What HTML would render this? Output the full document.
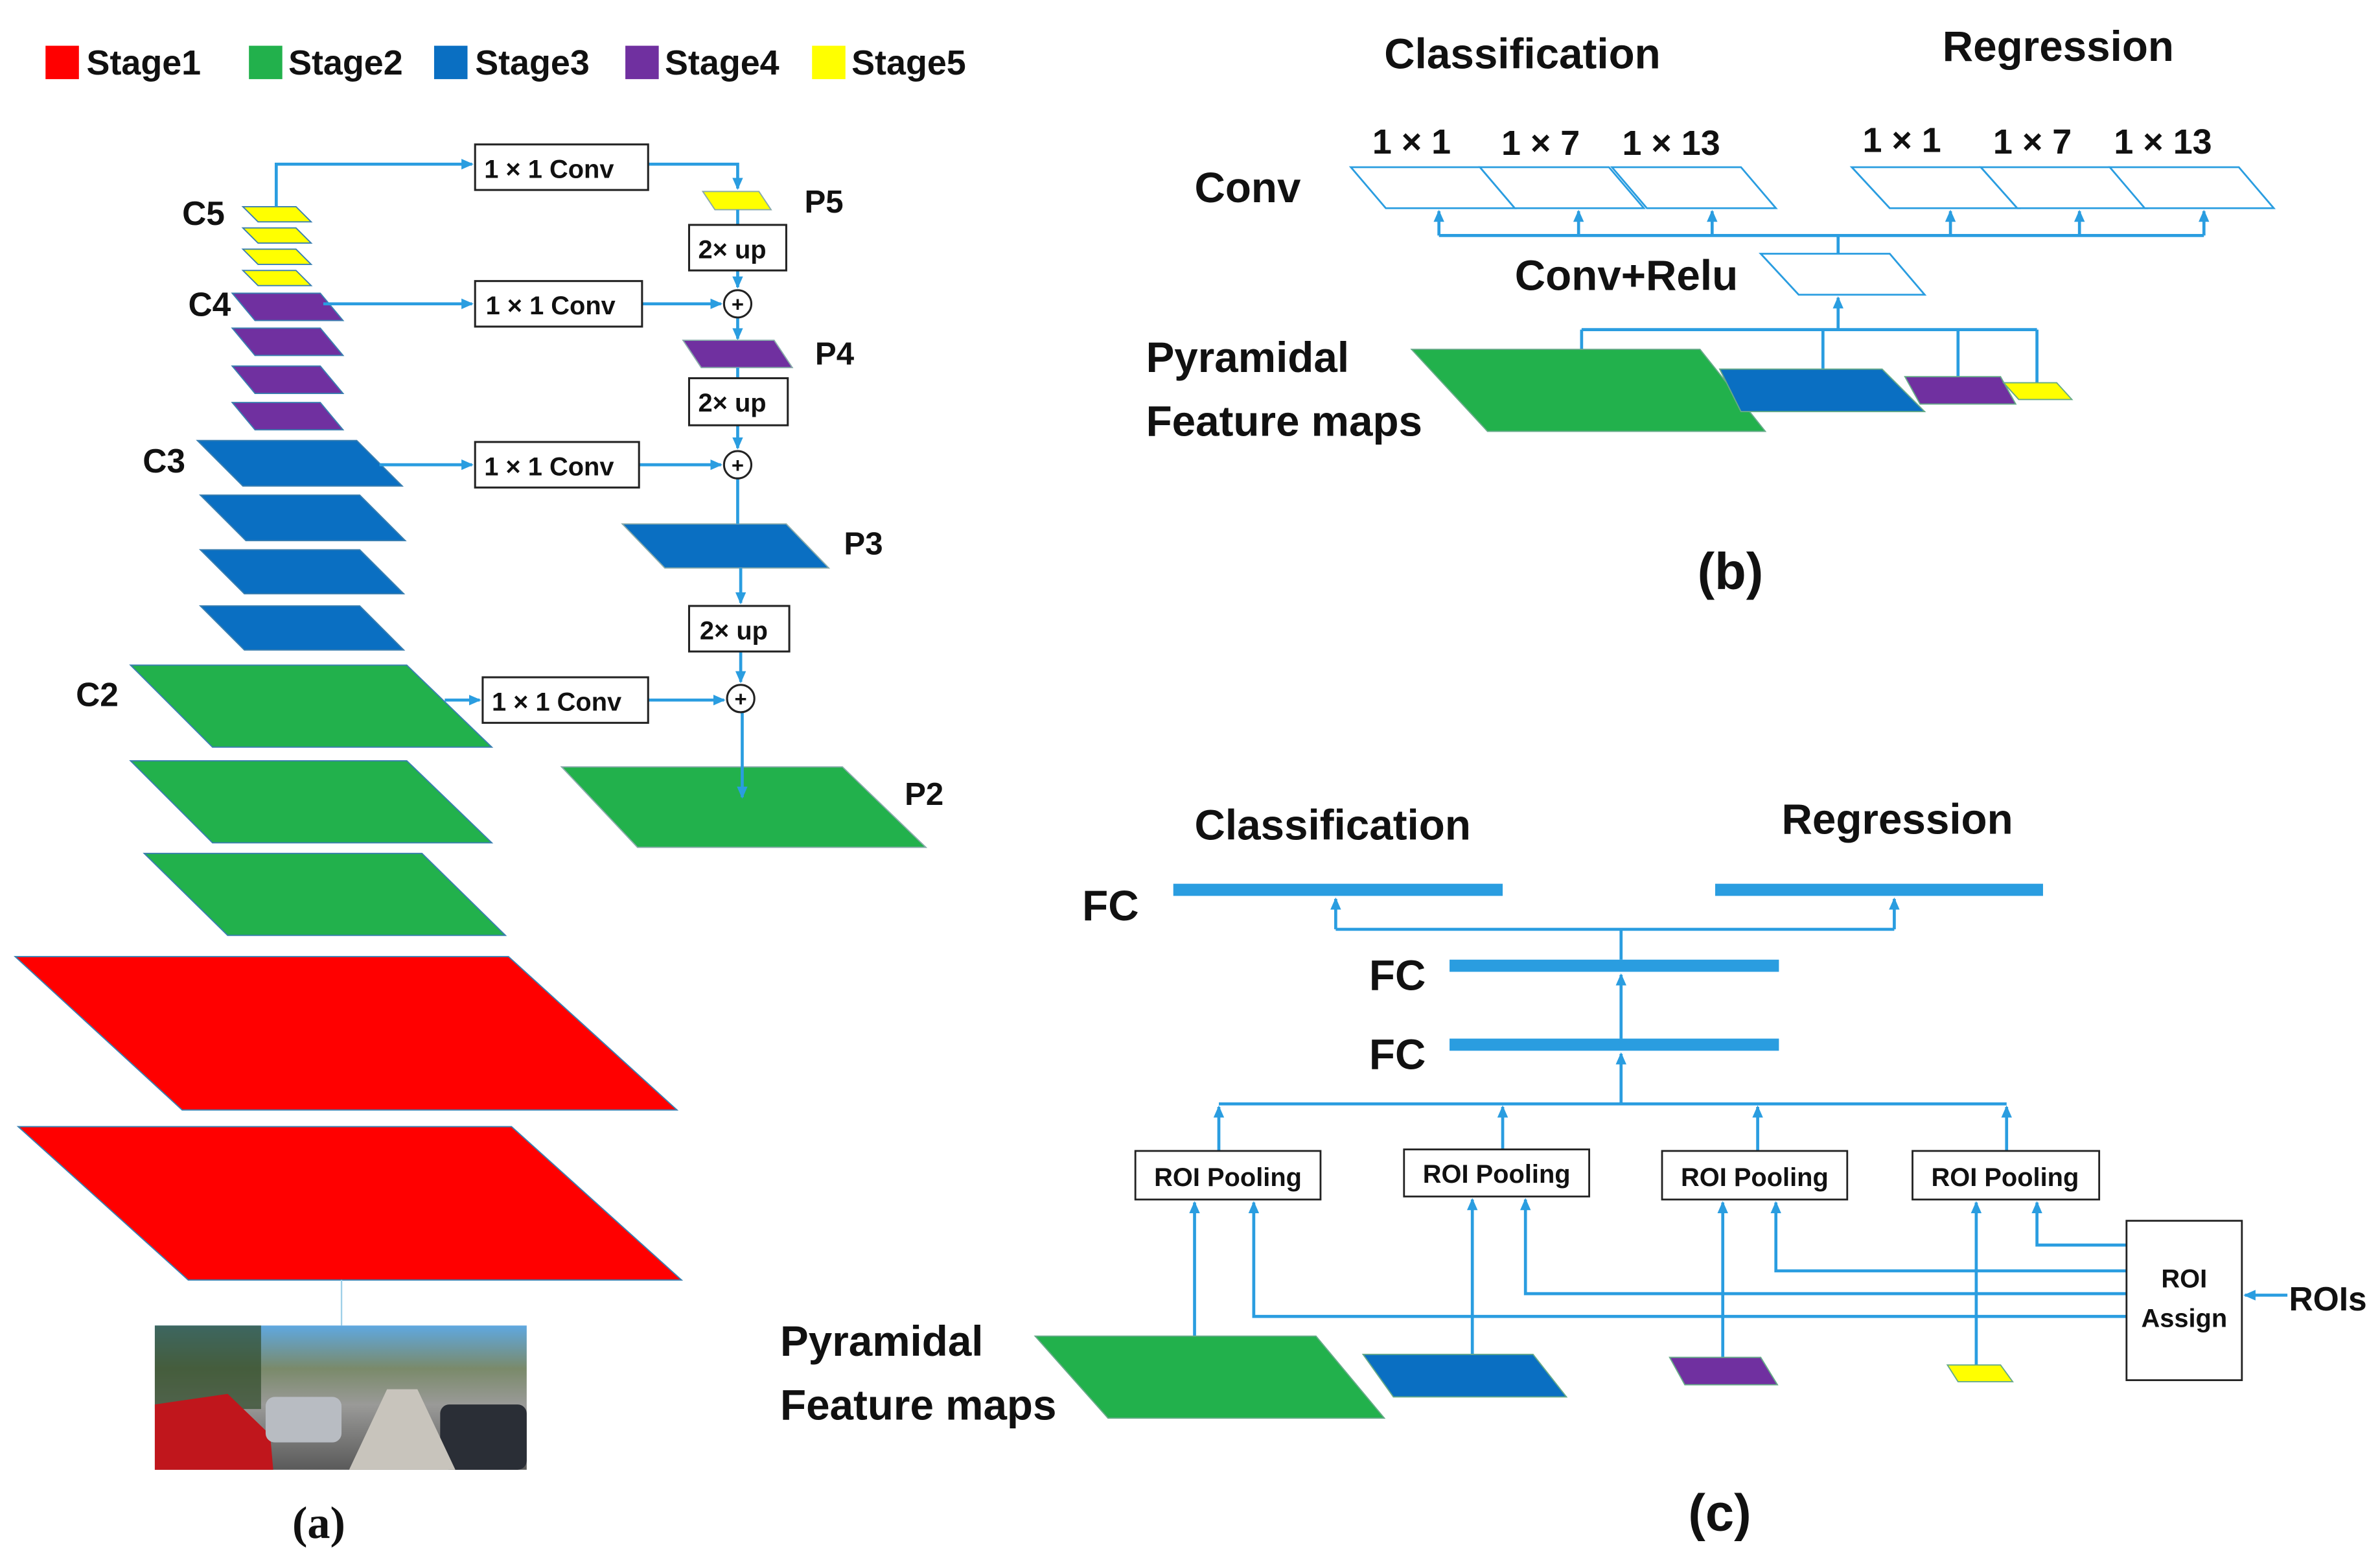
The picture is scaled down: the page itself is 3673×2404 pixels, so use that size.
<!DOCTYPE html>
<html><head><meta charset="utf-8"><style>
html,body{margin:0;padding:0;background:#fff;}
svg{display:block;}
text{font-family:"Liberation Sans",sans-serif;font-weight:bold;fill:#111;}
</style></head><body>
<svg width="3673" height="2404" viewBox="0 0 1568 1026" xmlns="http://www.w3.org/2000/svg">
<defs>
<marker id="ar" markerWidth="8" markerHeight="8" refX="7" refY="4" orient="auto" markerUnits="userSpaceOnUse"><path d="M0,0.5 L8,4 L0,7.5 z" fill="#2a9de0"/></marker>
<linearGradient id="img" x1="0" y1="0" x2="0" y2="1">
<stop offset="0" stop-color="#5fa8e0"/><stop offset="0.3" stop-color="#7a8a6a"/><stop offset="0.55" stop-color="#9a9a98"/><stop offset="1" stop-color="#5a5a5a"/></linearGradient>
</defs>
<g stroke="#2a9de0" stroke-width="2" fill="none">
</g>
<!-- Legend -->
<rect x="30" y="30" width="22" height="22" fill="#f00"/><text x="57" y="49" font-size="23">Stage1</text>
<rect x="164" y="30" width="22" height="22" fill="#22b14c"/><text x="190" y="49" font-size="23">Stage2</text>
<rect x="286" y="30" width="22" height="22" fill="#0a6fc2"/><text x="313" y="49" font-size="23">Stage3</text>
<rect x="412" y="30" width="22" height="22" fill="#7030a0"/><text x="438" y="49" font-size="23">Stage4</text>
<rect x="535" y="30" width="22" height="22" fill="#ffff00"/><text x="561" y="49" font-size="23">Stage5</text>

<!-- (a) backbone -->
<g stroke="#3a7fb0" stroke-width="0.8">
<polygon points="160,136 195,136 205,146 170,146" fill="#ff0"/>
<polygon points="160,150 195,150 205,160 170,160" fill="#ff0"/>
<polygon points="160,164 195,164 205,174 170,174" fill="#ff0"/>
<polygon points="160,178 195,178 205,188 170,188" fill="#ff0"/>
<polygon points="153,193 211,193 226,211 168,211" fill="#7030a0"/>
<polygon points="153,216 211,216 226,234 168,234" fill="#7030a0"/>
<polygon points="153,241 211,241 226,259 168,259" fill="#7030a0"/>
<polygon points="153,265 211,265 226,283 168,283" fill="#7030a0"/>
<polygon points="130,290 235,290 265,320 160,320" fill="#0a6fc2"/>
<polygon points="132,326 237,326 267,356 162,356" fill="#0a6fc2"/>
<polygon points="132,362 237,362 266,391 161,391" fill="#0a6fc2"/>
<polygon points="132,399 237,399 266,428 161,428" fill="#0a6fc2"/>
<polygon points="86,438 268,438 324,492 140,492" fill="#22b14c"/>
<polygon points="86,501 268,501 324,555 140,555" fill="#22b14c"/>
<polygon points="95,562 278,562 333,616 150,616" fill="#22b14c"/>
<polygon points="10,630 335,630 446,731 120,731" fill="#f00"/>
<polygon points="12,742 337,742 449,843 124,843" fill="#f00"/>
</g>
<line x1="225" y1="843" x2="225" y2="873" stroke="#9fd0e8" stroke-width="1"/>
<rect x="102" y="873" width="245" height="95" fill="url(#img)"/>
<rect x="102" y="873" width="70" height="55" fill="#2f4a2a" opacity="0.7"/>
<polygon points="102,925 150,918 178,945 180,968 102,968" fill="#c0161c"/>
<rect x="175" y="920" width="50" height="30" rx="6" fill="#b8bcc2"/>
<rect x="290" y="925" width="57" height="43" rx="6" fill="#2a2e36"/>
<polygon points="230,968 255,915 275,915 300,968" fill="#c8c4bc"/>
<text x="120" y="148" font-size="22">C5</text>
<text x="124" y="208" font-size="22">C4</text>
<text x="94" y="311" font-size="22">C3</text>
<text x="50" y="465" font-size="22">C2</text>

<!-- top-down -->
<g stroke="#8aa" stroke-width="0.8">
<polygon points="463,126 500,126 508,138 471,138" fill="#ff0"/>
<polygon points="450,224 510,224 522,242 462,242" fill="#7030a0"/>
<polygon points="410,345 518,345 546,374 438,374" fill="#0a6fc2"/>
<polygon points="370,505 555,505 610,558 420,558" fill="#22b14c"/>
</g>
<text x="530" y="140" font-size="21">P5</text>
<text x="537" y="240" font-size="21">P4</text>
<text x="556" y="365" font-size="21">P3</text>
<text x="596" y="530" font-size="21">P2</text>

<g stroke="#2a9de0" stroke-width="2" fill="none">
<polyline points="182,136 182,108 311,108" marker-end="url(#ar)"/>
<polyline points="427,108 486,108 486,124" marker-end="url(#ar)"/>
<line x1="486" y1="138" x2="486" y2="148"/>
<line x1="486" y1="178" x2="486" y2="189" marker-end="url(#ar)"/>
<line x1="486" y1="209" x2="486" y2="223" marker-end="url(#ar)"/>
<line x1="486" y1="242" x2="486" y2="249"/>
<line x1="486" y1="280" x2="486" y2="295" marker-end="url(#ar)"/>
<line x1="486" y1="315" x2="486" y2="345"/>
<line x1="488" y1="374" x2="488" y2="397" marker-end="url(#ar)"/>
<line x1="488" y1="429" x2="488" y2="449" marker-end="url(#ar)"/>
<line x1="489" y1="469" x2="489" y2="525" marker-end="url(#ar)"/>
<line x1="213" y1="200" x2="311" y2="200" marker-end="url(#ar)"/>
<line x1="423" y1="200" x2="475" y2="200" marker-end="url(#ar)"/>
<line x1="250" y1="306" x2="311" y2="306" marker-end="url(#ar)"/>
<line x1="421" y1="306" x2="475" y2="306" marker-end="url(#ar)"/>
<line x1="293" y1="461" x2="316" y2="461" marker-end="url(#ar)"/>
<line x1="427" y1="461" x2="477" y2="461" marker-end="url(#ar)"/>
</g>
<g stroke="#222" stroke-width="1.3" fill="#fff">
<rect x="313" y="95" width="114" height="30"/>
<rect x="313" y="185" width="110" height="30"/>
<rect x="313" y="291" width="108" height="30"/>
<rect x="318" y="446" width="109" height="30"/>
<rect x="454" y="148" width="64" height="30"/>
<rect x="454" y="249" width="65" height="31"/>
<rect x="454" y="399" width="66" height="30"/>
<circle cx="486" cy="200" r="9"/><circle cx="486" cy="306" r="9"/><circle cx="488" cy="460" r="9"/>
</g>
<g font-size="17">
<text x="319" y="117">1 × 1 Conv</text>
<text x="320" y="207">1 × 1 Conv</text>
<text x="319" y="313">1 × 1 Conv</text>
<text x="324" y="468">1 × 1 Conv</text>
<text x="460" y="170">2× up</text>
<text x="460" y="271">2× up</text>
<text x="461" y="421">2× up</text>
</g>
<g font-size="14" text-anchor="middle"><text x="486" y="205">+</text><text x="486" y="311">+</text><text x="488" y="465">+</text></g>
<text x="210" y="1013" font-size="30" text-anchor="middle" style="font-family:'Liberation Serif',serif">(a)</text>

<!-- (b) -->
<text x="1003" y="45" font-size="28" text-anchor="middle">Classification</text>
<text x="1356" y="40" font-size="28" text-anchor="middle">Regression</text>
<text x="787" y="133" font-size="28">Conv</text>
<g font-size="23" text-anchor="middle">
<text x="930" y="101">1 × 1</text><text x="1015" y="102">1 × 7</text><text x="1101" y="102">1 × 13</text>
<text x="1253" y="100">1 × 1</text><text x="1339" y="101">1 × 7</text><text x="1425" y="101">1 × 13</text>
</g>
<g stroke="#2a9de0" stroke-width="1.2" fill="#fff">
<polygon points="890,110 975,110 998,137 913,137"/>
<polygon points="975,110 1060,110 1083,137 998,137"/>
<polygon points="1062,110 1147,110 1170,137 1085,137"/>
<polygon points="1220,110 1305,110 1330,137 1245,137"/>
<polygon points="1305,110 1390,110 1414,137 1329,137"/>
<polygon points="1390,110 1475,110 1498,137 1413,137"/>
<polygon points="1160,167 1245,167 1268,194 1185,194"/>
</g>
<g stroke="#2a9de0" stroke-width="2" fill="none">
<line x1="948" y1="155" x2="1452" y2="155"/>
<line x1="948" y1="155" x2="948" y2="139" marker-end="url(#ar)"/>
<line x1="1040" y1="155" x2="1040" y2="139" marker-end="url(#ar)"/>
<line x1="1128" y1="155" x2="1128" y2="139" marker-end="url(#ar)"/>
<line x1="1285" y1="155" x2="1285" y2="139" marker-end="url(#ar)"/>
<line x1="1370" y1="155" x2="1370" y2="139" marker-end="url(#ar)"/>
<line x1="1452" y1="155" x2="1452" y2="139" marker-end="url(#ar)"/>
<line x1="1211" y1="167" x2="1211" y2="155"/>
<line x1="1211" y1="217" x2="1211" y2="196" marker-end="url(#ar)"/>
<line x1="1042" y1="217" x2="1342" y2="217"/>
<line x1="1042" y1="258" x2="1042" y2="217"/>
<line x1="1201" y1="243" x2="1201" y2="217"/>
<line x1="1290" y1="248" x2="1290" y2="217"/>
<line x1="1342" y1="252" x2="1342" y2="217"/>
</g>
<g stroke="#6a8" stroke-width="0.8">
<polygon points="930,230 1120,230 1163,284 980,284" fill="#22b14c"/>
<polygon points="1133,243 1240,243 1268,271 1147,271" fill="#0a6fc2"/>
<polygon points="1255,248 1318,248 1328,266 1265,266" fill="#7030a0"/>
<polygon points="1320,252 1355,252 1365,263 1330,263" fill="#ff0"/>
</g>
<text x="998" y="191" font-size="28">Conv+Relu</text>
<text x="755" y="245" font-size="28">Pyramidal</text>
<text x="755" y="287" font-size="28">Feature maps</text>
<text x="1140" y="388" font-size="34" text-anchor="middle">(b)</text>

<!-- (c) -->
<text x="878" y="553" font-size="28" text-anchor="middle">Classification</text>
<text x="1250" y="549" font-size="28" text-anchor="middle">Regression</text>
<text x="713" y="606" font-size="28">FC</text>
<text x="902" y="652" font-size="28">FC</text>
<text x="902" y="704" font-size="28">FC</text>
<g fill="#2a9de0">
<rect x="773" y="582" width="217" height="8"/>
<rect x="1130" y="582" width="216" height="8"/>
<rect x="955" y="632" width="217" height="8"/>
<rect x="955" y="684" width="217" height="8"/>
</g>
<g stroke="#2a9de0" stroke-width="2" fill="none">
<line x1="880" y1="612" x2="1248" y2="612"/>
<line x1="880" y1="612" x2="880" y2="592" marker-end="url(#ar)"/>
<line x1="1248" y1="612" x2="1248" y2="592" marker-end="url(#ar)"/>
<line x1="1068" y1="632" x2="1068" y2="612"/>
<line x1="1068" y1="684" x2="1068" y2="642" marker-end="url(#ar)"/>
<line x1="1068" y1="727" x2="1068" y2="694" marker-end="url(#ar)"/>
<line x1="803" y1="727" x2="1322" y2="727"/>
<line x1="803" y1="758" x2="803" y2="729" marker-end="url(#ar)"/>
<line x1="990" y1="757" x2="990" y2="729" marker-end="url(#ar)"/>
<line x1="1158" y1="758" x2="1158" y2="729" marker-end="url(#ar)"/>
<line x1="1322" y1="758" x2="1322" y2="729" marker-end="url(#ar)"/>
<line x1="787" y1="910" x2="787" y2="792" marker-end="url(#ar)"/>
<line x1="970" y1="905" x2="970" y2="790" marker-end="url(#ar)"/>
<line x1="1135" y1="902" x2="1135" y2="792" marker-end="url(#ar)"/>
<line x1="1302" y1="903" x2="1302" y2="792" marker-end="url(#ar)"/>
<polyline points="1401,820 1342,820 1342,792" marker-end="url(#ar)"/>
<polyline points="1401,837 1170,837 1170,792" marker-end="url(#ar)"/>
<polyline points="1401,852 1005,852 1005,790" marker-end="url(#ar)"/>
<polyline points="1401,867 826,867 826,792" marker-end="url(#ar)"/>
<line x1="1507" y1="853" x2="1479" y2="853" marker-end="url(#ar)"/>
</g>
<g stroke="#6a8" stroke-width="0.8">
<polygon points="682,880 867,880 912,934 730,934" fill="#22b14c"/>
<polygon points="898,892 1010,892 1032,920 918,920" fill="#0a6fc2"/>
<polygon points="1100,894 1160,894 1171,912 1110,912" fill="#7030a0"/>
<polygon points="1283,899 1318,899 1326,910 1290,910" fill="#ff0"/>
</g>
<g stroke="#222" stroke-width="1.2" fill="#fff">
<rect x="748" y="758" width="122" height="32"/>
<rect x="925" y="757" width="122" height="31"/>
<rect x="1095" y="758" width="122" height="32"/>
<rect x="1260" y="758" width="123" height="32"/>
<rect x="1401" y="804" width="76" height="105"/>
</g>
<g font-size="17" text-anchor="middle">
<text x="809" y="781">ROI Pooling</text>
<text x="986" y="779">ROI Pooling</text>
<text x="1156" y="781">ROI Pooling</text>
<text x="1321" y="781">ROI Pooling</text>
<text x="1439" y="848">ROI</text>
<text x="1439" y="874">Assign</text>
</g>
<text x="1508" y="863" font-size="22">ROIs</text>
<text x="514" y="893" font-size="28">Pyramidal</text>
<text x="514" y="935" font-size="28">Feature maps</text>
<text x="1133" y="1008" font-size="34" text-anchor="middle">(c)</text>
</svg>
</body></html>
